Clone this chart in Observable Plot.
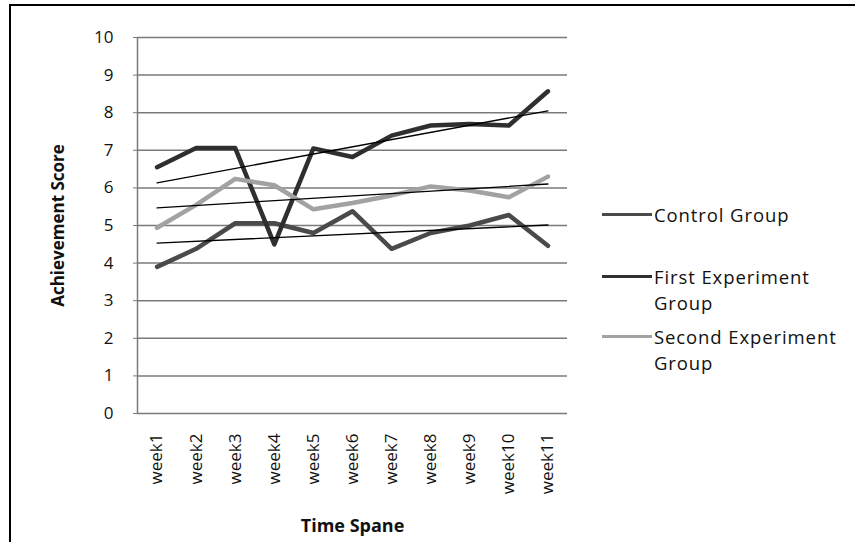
<!DOCTYPE html>
<html>
<head>
<meta charset="utf-8">
<script src="https://cdn.jsdelivr.net/npm/d3@7"></script>
<script src="https://cdn.jsdelivr.net/npm/@observablehq/plot@0.6"></script>
<style>
  html, body { margin: 0; padding: 0; background: #fff; }
  #wrap { position: relative; width: 855px; height: 542px; overflow: hidden; font-family: 'Open Sans', sans-serif; }
  #frame { position: absolute; left: 9px; top: 4px; width: 860px; height: 560px; border-left: 2px solid #000; border-top: 2px solid #000; box-sizing: border-box; pointer-events: none; }
  .leg { position: absolute; left: 602px; display: flex; align-items: flex-start; font-size: 18.5px; letter-spacing: 0.9px; line-height: 25.5px; color: #111; }
  .leg .sw { width: 50px; height: 3px; margin-top: 11px; margin-right: 2px; flex: none; }
</style>
</head>
<body>
<div id="wrap"><div id="frame"></div></div>
<script>
const weeks = ["week1","week2","week3","week4","week5","week6","week7","week8","week9","week10","week11"];
const seriesNames = ["Control Group", "First Experiment Group", "Second Experiment Group"];
const seriesColors = ["#4a4a4a", "#2f2f2f", "#a2a2a2"];
const control = [3.9, 4.38, 5.06, 5.06, 4.8, 5.38, 4.38, 4.8, 5.0, 5.28, 4.46];
const first   = [6.55, 7.06, 7.06, 4.5, 7.05, 6.82, 7.39, 7.66, 7.7, 7.66, 8.57];
const second  = [4.94, 5.55, 6.24, 6.07, 5.43, 5.6, 5.8, 6.04, 5.93, 5.75, 6.3];
const yTicks = [0,1,2,3,4,5,6,7,8,9,10];

const values = [control, first, second];
const data = [];
seriesNames.forEach((s, k) => values[k].forEach((v, i) => data.push({series: s, i: i + 1, value: v})));
const xTicks = weeks.map((w, i) => i + 1);

const chart = Plot.plot({
  width: 855, height: 542,
  marginLeft: 137, marginRight: 288, marginTop: 37, marginBottom: 129,
  style: {fontFamily: "'Open Sans', sans-serif", background: "transparent", color: "#111"},
  x: {domain: [0.5, 11.5]},
  y: {domain: [0, 10]},
  color: {domain: seriesNames, range: seriesColors},
  marks: [
    Plot.gridY(yTicks, {stroke: "#7a7a7a", strokeOpacity: 1, strokeWidth: 1.5}),
    Plot.ruleX([0.5], {y1: 0, y2: 10, stroke: "#7a7a7a", strokeWidth: 1.5}),
    Plot.axisY(yTicks, {tickSize: 4, tickPadding: 20, fontSize: 17, label: null, stroke: "#7a7a7a", fill: "#111"}),
    Plot.axisX(xTicks, {tickSize: 0, tickPadding: 20, tickRotate: -90, fontSize: 17, label: null, fill: "#111", tickFormat: i => weeks[i - 1]}),
    Plot.line(data, {x: "i", y: "value", z: "series", stroke: "series", strokeWidth: 4.5, strokeLinecap: "round", strokeLinejoin: "round"}),
    Plot.linearRegressionY(data, {x: "i", y: "value", z: "series", stroke: "#000", strokeWidth: 1.3, ci: 0}),
    Plot.text(["Achievement Score"], {text: d => d, frameAnchor: "left", textAnchor: "middle", lineAnchor: "middle", dx: -79, rotate: -90, fontWeight: "bold", fontSize: 17, fill: "#111"}),
    Plot.text(["Time Spane"], {text: d => d, frameAnchor: "bottom", textAnchor: "middle", lineAnchor: "middle", dy: 113, fontWeight: "bold", fontSize: 18, fill: "#111"})
  ]
});
const wrap = document.getElementById("wrap");
wrap.insertBefore(chart, wrap.firstChild);

const legendTops = [215, 277, 337];
const legendLines = [["Control Group"], ["First Experiment", "Group"], ["Second Experiment", "Group"]];
seriesNames.forEach((s, k) => {
  const item = document.createElement("div");
  item.className = "leg";
  item.style.top = (legendTops[k] - 12.75) + "px";
  const sw = document.createElement("div");
  sw.className = "sw";
  sw.style.background = seriesColors[k];
  const tx = document.createElement("div");
  tx.innerHTML = legendLines[k].join("<br>");
  item.appendChild(sw);
  item.appendChild(tx);
  wrap.appendChild(item);
});
</script>
</body>
</html>
